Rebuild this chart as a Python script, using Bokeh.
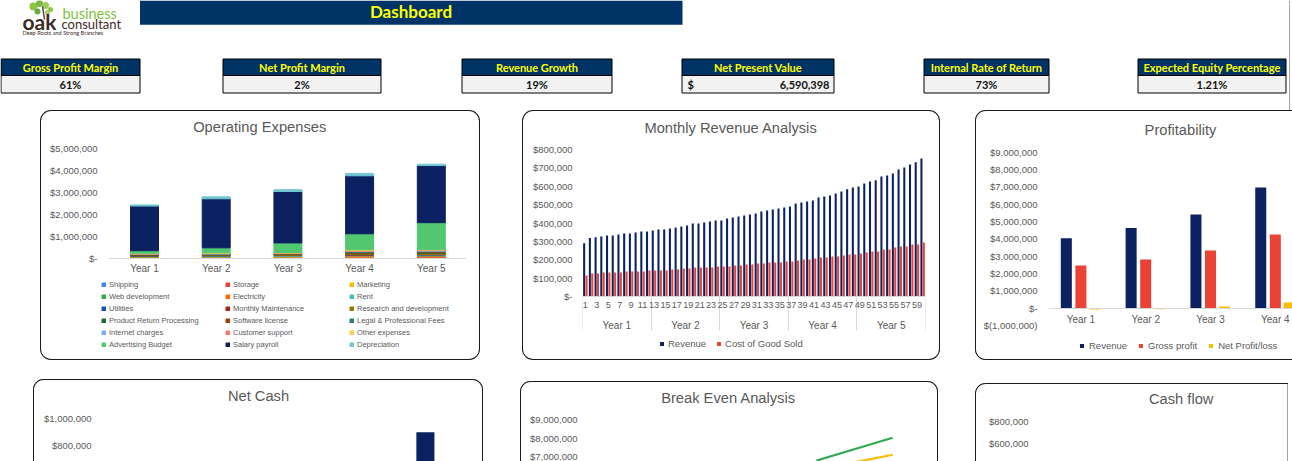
from bokeh.plotting import figure
from bokeh.layouts import row, column
from bokeh.models import (Range1d, FactorRange, FixedTicker, CustomJSTickFormatter, Legend,
                          LegendItem, LinearAxis, Spacer, ColumnDataSource, Label)
from bokeh.transform import dodge
from bokeh.core.properties import value
from bokeh.embed import file_html
from bokeh.resources import INLINE

# ------------------------------------------------------------------ data
kpi_titles = ["Gross Profit Margin", "Net Profit Margin", "Revenue Growth",
              "Net Present Value", "Internal Rate of Return", "Expected Equity Percentage"]
kpi_values = ["61%", "2%", "19%", "6,590,398", "73%", "1.21%"]

opex_x = [1, 2, 3, 4, 5]
opex_years = ["Year 1", "Year 2", "Year 3", "Year 4", "Year 5"]
opex_labels = ["Shipping", "Storage", "Marketing",
               "Web development", "Electricity", "Rent",
               "Utilities", "Monthly Maintenance", "Research and development",
               "Product Return Processing", "Software license", "Legal & Professional Fees",
               "Internet charges", "Customer support", "Other expenses",
               "Advertising Budget", "Salary payroll", "Depreciation"]
shipping = [18000, 22000, 25000, 30000, 34000]
storage = [20000, 24000, 26000, 30000, 33000]
marketing = [15000, 15000, 18000, 22000, 24000]
web_development = [10000, 8000, 8000, 10000, 10000]
electricity = [12000, 13000, 14000, 16000, 17000]
rent = [24000, 25000, 26000, 28000, 30000]
utilities = [8000, 9000, 9000, 10000, 11000]
monthly_maintenance = [12000, 13000, 14000, 16000, 17000]
research_development = [20000, 22000, 24000, 40000, 45000]
product_return = [10000, 11000, 12000, 28000, 30000]
software_license = [14000, 15000, 16000, 34000, 36000]
legal_fees = [20000, 21000, 22000, 40000, 42000]
internet_charges = [6000, 6000, 7000, 8000, 9000]
customer_support = [15000, 16000, 17000, 34000, 36000]
other_expenses = [20000, 25000, 21000, 40000, 20000]
advertising_budget = [120000, 230000, 440000, 730000, 1230000]
salary_payroll = [2040000, 2240000, 2350000, 2650000, 2610000]
depreciation = [50000, 90000, 80000, 110000, 60000]
opex_series = [shipping, storage, marketing, web_development, electricity, rent,
               utilities, monthly_maintenance, research_development, product_return,
               software_license, legal_fees, internet_charges, customer_support,
               other_expenses, advertising_budget, salary_payroll, depreciation]
opex_ticks = [0, 1000000, 2000000, 3000000, 4000000, 5000000]

months = list(range(1, 61))
year_labels = ["Year 1", "Year 2", "Year 3", "Year 4", "Year 5"]
monthly_revenue = [290000, 318000, 323000, 327000, 332000, 332000, 338000, 343000, 343000, 348000, 354000, 354000,
                   359000, 365000, 365000, 370000, 376000, 381000, 387000, 397000, 397000, 403000, 408000, 414000,
                   414000, 425000, 430000, 436000, 441000, 446000, 452000, 463000, 468000, 474000, 479000, 485000,
                   490000, 506000, 512000, 517000, 523000, 539000, 544000, 550000, 561000, 572000, 583000, 593000,
                   599000, 615000, 626000, 632000, 653000, 659000, 670000, 691000, 702000, 719000, 730000, 751000]
monthly_cogs = [114000, 125000, 125000, 131000, 131000, 131000, 131000, 136000, 136000, 136000, 136000, 142000,
                142000, 142000, 142000, 147000, 147000, 152000, 152000, 158000, 158000, 158000, 158000, 163000,
                163000, 163000, 169000, 169000, 174000, 174000, 180000, 180000, 185000, 185000, 185000, 191000,
                191000, 196000, 201000, 201000, 207000, 212000, 212000, 218000, 218000, 223000, 229000, 229000,
                234000, 240000, 245000, 245000, 256000, 256000, 267000, 272000, 272000, 283000, 283000, 294000]
revenue_ticks = [0, 100000, 200000, 300000, 400000, 500000, 600000, 700000, 800000]

prof_x = [1, 2, 3, 4]
prof_years = ["Year 1", "Year 2", "Year 3", "Year 4"]
prof_revenue = [4040000, 4620000, 5400000, 6960000]
prof_gross = [2460000, 2810000, 3330000, 4250000]
prof_net = [-70000, -60000, 90000, 330000]
prof_ticks = [-1000000, 0, 1000000, 2000000, 3000000, 4000000, 5000000, 6000000, 7000000, 8000000, 9000000]

netcash_years = ["Year 1", "Year 2", "Year 3", "Year 4", "Year 5"]
netcash_visible_year = ["Year 5"]
netcash_visible_value = [897000]
netcash_ticks = [800000, 1000000]

breakeven_x = [4, 5]
breakeven_green = [6820000, 8040000]
breakeven_yellow = [6330000, 7130000]
breakeven_ticks = [7000000, 8000000, 9000000]

cashflow_ticks = [600000, 800000]

# ------------------------------------------------------------------ style
FONT = "Liberation Sans"
GRAY = "#595959"
NAVY = "#0B2161"
RED = "#EA4335"
YELLOW = "#FBBC04"
HDR = "#003366"
opex_colors = ["#4285F4", "#EA4335", "#FBBC04", "#34A853", "#FF6D01", "#46BDC6",
               "#1A4FB3", "#A52714", "#9C7400", "#1E6B30", "#A03C00", "#2A7E82",
               "#7BAAF7", "#F07B72", "#FCD04F", "#52C76F", NAVY, "#71C7D1"]

BL = "#1a1a1a"
FULL = {"border-radius": "11px", "box-shadow": f"inset 0 0 0 1px {BL}"}
OPEN_RIGHT = {"border-radius": "11px 0 0 11px",
              "box-shadow": f"inset 1px 0 0 0 {BL}, inset 0 1px 0 0 {BL}, inset 0 -1px 0 0 {BL}"}
OPEN_BOTTOM = {"border-radius": "11px 11px 0 0",
               "box-shadow": f"inset 1px 0 0 0 {BL}, inset -1px 0 0 0 {BL}, inset 0 1px 0 0 {BL}"}
CASHFLOW = {"border-radius": "11px 0 0 0",
            "box-shadow": f"inset 1px 0 0 0 {BL}, inset 0 1px 0 0 {BL}, inset -1px 0 0 0 #a6a6a6"}


def span_range(v_upper, px_upper, v_lower, px_lower, height):
    """Value range of a frame that fills the figure height, given two value/pixel anchors."""
    per_px = (v_upper - v_lower) / float(px_lower - px_upper)
    return Range1d(v_lower - (height - px_lower) * per_px, v_upper + px_upper * per_px), per_px


def money_formatter():
    return CustomJSTickFormatter(code="""
        const v = Math.round(tick);
        if (v === 0) { return "$-"; }
        const s = Math.abs(v).toLocaleString("en-US");
        return v < 0 ? "$(" + s + ")" : "$" + s;
    """)


def base_fig(width, height, x_range, y_range, left, right, styles):
    p = figure(width=width, height=height, x_range=x_range, y_range=y_range,
               output_backend="svg", toolbar_location=None, tools="",
               min_border_left=left, min_border_right=right,
               min_border_top=0, min_border_bottom=0,
               x_axis_location=None, y_axis_location=None,
               border_fill_color=None, background_fill_color=None,
               outline_line_color=None, styles=styles)
    p.frame_align = False
    p.xgrid.visible = False
    p.ygrid.visible = False
    return p


def add_title(p, text, x, y):
    p.add_layout(Label(x=x, y=y, x_units="screen", y_units="screen", text=text,
                       text_align="center", text_baseline="middle",
                       text_font_size="14.7px", text_color=GRAY, text_font=FONT))


def add_yaxis(p, ticks, standoff):
    ax = LinearAxis(ticker=FixedTicker(ticks=ticks), formatter=money_formatter(),
                    major_label_standoff=standoff, major_tick_out=0, major_tick_in=0,
                    minor_tick_out=0, minor_tick_in=0,
                    major_tick_line_color=None, minor_tick_line_color=None,
                    axis_line_color=None, major_label_text_font_size="9.5px",
                    major_label_text_color=GRAY, major_label_text_font=FONT)
    p.add_layout(ax, "left")


def label_formatter(labels, code):
    return CustomJSTickFormatter(args=dict(labels=labels), code=code)


def style_legend(lg, font_size):
    lg.label_text_font = FONT
    lg.label_text_font_size = font_size
    lg.label_text_color = GRAY
    lg.background_fill_alpha = 0
    lg.border_line_color = None
    lg.padding = 0
    lg.margin = 0
    lg.glyph_width = 5
    lg.glyph_height = 5


# ------------------------------------------------------------------ header
ph = figure(width=1292, height=110, x_range=Range1d(0, 1292), y_range=Range1d(110, 0),
            output_backend="svg", toolbar_location=None, tools="",
            min_border=0, x_axis_location=None, y_axis_location=None,
            border_fill_color=None, background_fill_color=None, outline_line_color=None)
ph.frame_align = False
ph.xgrid.visible = False
ph.ygrid.visible = False

# logo
ph.scatter(x=[33, 39, 45, 50, 37, 47], y=[6, 3, 5, 9, 11, 12], size=[8, 7, 7, 5, 6, 5],
           marker="circle", fill_color=["#8dc63f", "#7ab648", "#9ccc55", "#8dc63f", "#6aa84f", "#a5d26a"],
           line_color=None)
ph.segment(x0=[42], y0=[6], x1=[44], y1=[19], line_color="#5a4636", line_width=1.5)
ph.text(x=[22], y=[21], text=["oak"], text_font=value("Lato"), text_font_style="bold",
        text_font_size="21px", text_color="#3d2b1f", text_baseline="middle")
ph.text(x=[62], y=[13], text=["business"], text_font=value("Lato"),
        text_font_size="14.5px", text_color="#7dc242", text_baseline="middle")
ph.text(x=[61], y=[23.5], text=["consultant"], text_font=value("Lato"),
        text_font_size="13px", text_color="#3d2b1f", text_baseline="middle")
ph.text(x=[22], y=[31.5], text=["Deep Roots and Strong Branches"], text_font=value("Lato"),
        text_font_size="5.6px", text_color="#3d2b1f", text_baseline="middle")

# title bar
ph.quad(left=[139.5], right=[682], top=[0], bottom=[24.3], fill_color=HDR, line_color=None)
ph.text(x=[410.5], y=[11], text=["Dashboard"], text_font=value("Lato"), text_font_style="bold",
        text_font_size="17px", text_color="#FFFF00", text_align="center", text_baseline="middle")

# KPI boxes
kpi_left = [0.5, 222.5, 461.5, 681.5, 923.5, 1137.5]
kpi_right = [139.5, 380.5, 611.5, 833.5, 1048.5, 1285.5]
kpi_center = [(a + b) / 2 for a, b in zip(kpi_left, kpi_right)]
ph.quad(left=kpi_left, right=kpi_right, top=[58.5] * 6, bottom=[75] * 6,
        fill_color=HDR, line_color="black", line_width=1)
ph.quad(left=kpi_left, right=kpi_right, top=[75] * 6, bottom=[92.5] * 6,
        fill_color="#F2F2F2", line_color="black", line_width=1)
ph.text(x=kpi_center, y=[67] * 6, text=kpi_titles, text_font=value("Lato"), text_font_style="bold",
        text_font_size="11px", text_color="#FFFF00", text_align="center", text_baseline="middle")
val_x = [kpi_center[0], kpi_center[1], kpi_center[2], 829, kpi_center[4], kpi_center[5]]
val_align = ["center", "center", "center", "right", "center", "center"]
ph.text(x=val_x, y=[84] * 6, text=kpi_values, text_font=value("Lato"), text_font_style="bold",
        text_font_size="11px", text_color="#111111", text_align=val_align, text_baseline="middle")
ph.text(x=[687], y=[84], text=["$"], text_font=value("Lato"), text_font_style="bold",
        text_font_size="11px", text_color="#111111", text_align="left", text_baseline="middle")
ph.segment(x0=[1289], y0=[0], x1=[1289], y1=[110], line_color="#a6a6a6", line_width=1)

# ------------------------------------------------------------------ chart 1: Operating Expenses
H2 = 250
yr1, _ = span_range(5000000, 38.3, 0, 147.7, H2)
xr1 = Range1d(1 - 46 / 71.7, 5 + 35.2 / 71.7)
p1 = base_fig(440, H2, xr1, yr1, 58, 14, FULL)
src1 = ColumnDataSource(dict(x=opex_x, **{f"e{i}": s for i, s in enumerate(opex_series)}))
keys = [f"e{i}" for i in range(len(opex_series))]
r1 = p1.vbar_stack(keys, x="x", width=0.39, color=opex_colors, source=src1)
add_yaxis(p1, opex_ticks, 1)
xa1 = LinearAxis(ticker=FixedTicker(ticks=opex_x),
                 formatter=label_formatter(opex_years, "return labels[Math.round(tick) - 1];"),
                 fixed_location=0, bounds=(0.5, 5.5),
                 major_label_standoff=5, major_tick_out=0, major_tick_in=0,
                 major_tick_line_color=None, minor_tick_line_color=None, axis_line_color="#d9d9d9",
                 major_label_text_font_size="10px", major_label_text_color=GRAY,
                 major_label_text_font=FONT)
p1.add_layout(xa1, "below")
add_title(p1, "Operating Expenses", 219.2 - 58, H2 - 16.7)
lg1 = Legend(items=[LegendItem(label=n, renderers=[r]) for n, r in zip(opex_labels, r1)],
             location=(3, 11.5), orientation="horizontal", ncols=3)
style_legend(lg1, "7.5px")
lg1.label_width = 113
lg1.label_height = 9
lg1.label_standoff = 3
lg1.spacing = 3
p1.add_layout(lg1, "center")

# ------------------------------------------------------------------ chart 2: Monthly Revenue Analysis
yr2, pp2 = span_range(800000, 39, 0, 186, H2)
p2 = base_fig(418, H2, Range1d(0.5, 60.5), yr2, 60, 15, FULL)
src2 = ColumnDataSource(dict(month=months, revenue=monthly_revenue, cogs=monthly_cogs))
rv = p2.vbar(x=dodge("month", -0.21, range=p2.x_range), top="revenue", width=0.36,
             source=src2, fill_color=NAVY, line_color=None)
cg = p2.vbar(x=dodge("month", 0.21, range=p2.x_range), top="cogs", width=0.36,
             source=src2, fill_color=RED, line_color=None)
add_yaxis(p2, revenue_ticks, 10)
bounds = [0.5 + 12 * i for i in range(6)]
month_axis = LinearAxis(ticker=FixedTicker(ticks=months[::2], minor_ticks=bounds),
                        fixed_location=0,
                        major_label_standoff=5, major_tick_out=0, major_tick_in=0,
                        major_tick_line_color=None, minor_tick_out=0, minor_tick_in=-34,
                        minor_tick_line_color="#d9d9d9", axis_line_color="#d9d9d9",
                        major_label_text_font_size="9px", major_label_text_color=GRAY,
                        major_label_text_font=FONT)
year_axis = LinearAxis(ticker=FixedTicker(ticks=[6.5 + 12 * i for i in range(5)]),
                       formatter=label_formatter(year_labels, "return labels[Math.round((tick - 6.5) / 12)];"),
                       fixed_location=-18 * pp2,
                       major_label_standoff=5, major_tick_out=0, major_tick_in=0,
                       major_tick_line_color=None, minor_tick_line_color=None, axis_line_color=None,
                       major_label_text_font_size="10px", major_label_text_color=GRAY,
                       major_label_text_font=FONT)
p2.add_layout(month_axis, "below")
p2.add_layout(year_axis, "below")
add_title(p2, "Monthly Revenue Analysis", 208.5 - 60, H2 - 17)
lg2 = Legend(items=[LegendItem(label="Revenue", renderers=[rv]),
                    LegendItem(label="Cost of Good Sold", renderers=[cg])],
             location=(77, 11.5), orientation="horizontal")
style_legend(lg2, "9.5px")
lg2.label_standoff = 4
lg2.spacing = 10
p2.add_layout(lg2, "center")

# ------------------------------------------------------------------ chart 3: Profitability
yr3, _ = span_range(9000000, 41.7, -1000000, 215, H2)
p3 = base_fig(317, H2, Range1d(0.5, 4.265), yr3, 73, 0, OPEN_RIGHT)
src3 = ColumnDataSource(dict(x=prof_x, revenue=prof_revenue, gross=prof_gross, net=prof_net))
b1 = p3.vbar(x=dodge("x", -0.225, range=p3.x_range), top="revenue", width=0.17, source=src3,
             fill_color=NAVY, line_color=None)
b2 = p3.vbar(x=dodge("x", 0.0, range=p3.x_range), top="gross", width=0.17, source=src3,
             fill_color=RED, line_color=None)
b3 = p3.vbar(x=dodge("x", 0.215, range=p3.x_range), top="net", width=0.17, source=src3,
             fill_color=YELLOW, line_color=None)
add_yaxis(p3, prof_ticks, 11)
xa3 = LinearAxis(ticker=FixedTicker(ticks=prof_x),
                 formatter=label_formatter(prof_years, "return labels[Math.round(tick) - 1];"),
                 fixed_location=0, major_label_standoff=6, major_tick_out=0, major_tick_in=0,
                 major_tick_line_color=None, minor_tick_line_color=None, axis_line_color="#d9d9d9",
                 major_label_text_font_size="10px", major_label_text_color=GRAY,
                 major_label_text_font=FONT)
p3.add_layout(xa3, "below")
add_title(p3, "Profitability", 205 - 73, H2 - 19)
lg3 = Legend(items=[LegendItem(label="Revenue", renderers=[b1]),
                    LegendItem(label="Gross profit", renderers=[b2]),
                    LegendItem(label="Net Profit/loss", renderers=[b3])],
             location=(31, 8.8), orientation="horizontal")
style_legend(lg3, "9.5px")
lg3.label_standoff = 5
lg3.spacing = 11
p3.add_layout(lg3, "center")

# ------------------------------------------------------------------ chart 4: Net Cash
yr4, _ = span_range(1000000, 38.7, 800000, 66, 82)
p4 = base_fig(450, 82, FactorRange(factors=netcash_years), yr4, 67, 22, OPEN_BOTTOM)
p4.vbar(x=netcash_visible_year, top=netcash_visible_value, width=0.25, fill_color=NAVY, line_color=None)
add_yaxis(p4, netcash_ticks, 9)
add_title(p4, "Net Cash", 225 - 67, 82 - 16.7)

# ------------------------------------------------------------------ chart 5: Break Even Analysis
yr5, _ = span_range(9000000, 38.3, 8000000, 57, 80)
p5 = base_fig(418, 80, Range1d(1, 5.43), yr5, 67, 13, OPEN_BOTTOM)
p5.line(x=breakeven_x, y=breakeven_green, line_color="#34A853", line_width=2.25)
p5.line(x=breakeven_x, y=breakeven_yellow, line_color=YELLOW, line_width=2.25)
add_yaxis(p5, breakeven_ticks, 10)
add_title(p5, "Break Even Analysis", 208 - 67, 80 - 16.7)

# ------------------------------------------------------------------ chart 6: Cash flow
yr6, _ = span_range(800000, 38, 600000, 60.3, 78)
p6 = base_fig(313, 78, Range1d(0, 1), yr6, 63, 10, CASHFLOW)
add_yaxis(p6, cashflow_ticks, 10)
add_title(p6, "Cash flow", 205.7 - 63, 78 - 15.3)

# ------------------------------------------------------------------ layout
layout = column(
    ph,
    row(Spacer(width=40, height=10), p1, Spacer(width=42, height=10), p2,
        Spacer(width=35, height=10), p3),
    Spacer(width=10, height=19),
    row(Spacer(width=33, height=10), p4, Spacer(width=37, height=10),
        column(Spacer(width=10, height=2), p5), Spacer(width=37, height=10),
        column(Spacer(width=10, height=4), p6), Spacer(width=4, height=10)),
)

open("out.html", "w").write(file_html(layout, INLINE))
